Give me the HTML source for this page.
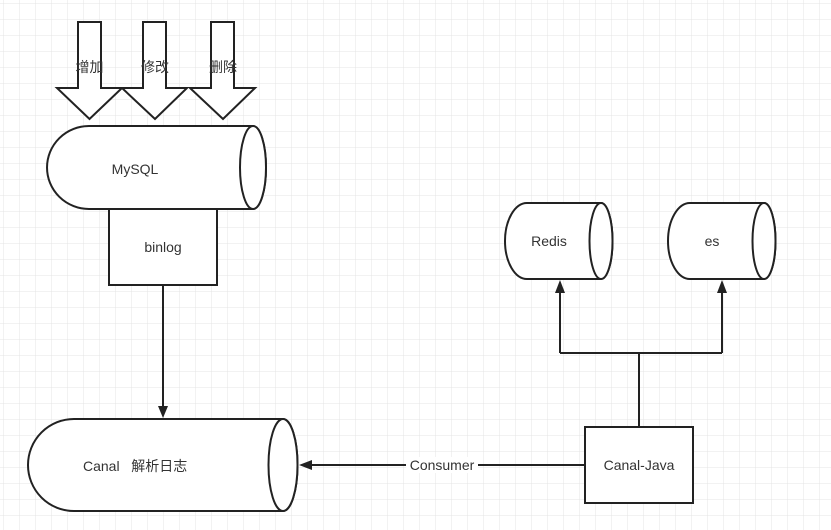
<!DOCTYPE html>
<html><head><meta charset="utf-8"><style>
html,body{margin:0;padding:0;background:#fff;}
svg{display:block}
text{font-family:"Liberation Sans","Noto Sans CJK SC",sans-serif;font-size:14px;fill:#333}
</style></head><body>
<svg width="831" height="530" viewBox="0 0 831 530" xmlns="http://www.w3.org/2000/svg">
<defs>
<pattern id="g" width="16" height="16" patternUnits="userSpaceOnUse" x="4" y="4">
<path d="M16 0V16H0" fill="none" stroke="#e4e4e4" stroke-width="1"/>
</pattern>
</defs>
<rect width="831" height="530" fill="url(#g)"/>
<g fill="#fff" stroke="#222" stroke-width="2">
<path d="M78 22H101V88H122L89.5 119L57 88H78Z"/>
<path d="M143 22H166V88H187L155 119L122 88H143Z"/>
<path d="M211 22H234V88H255L223 119L190 88H211Z"/>
<path d="M89 126H253A13 41.5 0 0 1 253 209H89A42 41.5 0 0 1 89 126Z"/>
<ellipse cx="253" cy="167.5" rx="13" ry="41.5"/>
<rect x="109" y="209" width="108" height="76"/>
<path d="M74 419H283A14.5 46 0 0 1 283 511H74A46 46 0 0 1 74 419Z"/>
<ellipse cx="283" cy="465" rx="14.5" ry="46"/>
<path d="M527 203H601A11.5 38 0 0 1 601 279H527A22 38 0 0 1 527 203Z"/>
<ellipse cx="601" cy="241" rx="11.5" ry="38"/>
<path d="M690 203H764A11.5 38 0 0 1 764 279H690A22 38 0 0 1 690 203Z"/>
<ellipse cx="764" cy="241" rx="11.5" ry="38"/>
<rect x="585" y="427" width="108" height="76"/>
</g>
<g stroke="#222" stroke-width="2" fill="none">
<path d="M163 285V410"/>
<path d="M584 465H309"/>
<path d="M639 427V353M560 353H722M560 353V292M722 353V292"/>
</g>
<g fill="#222">
<path d="M158 406L168 406L163 418Z"/>
<path d="M299 465L312 460L312 470Z"/>
<path d="M555 293L565 293L560 280Z"/>
<path d="M717 293L727 293L722 280Z"/>
</g>
<rect x="406" y="457" width="72" height="16" fill="#fff"/>
<text x="442" y="470" text-anchor="middle">Consumer</text>
<text x="89.5" y="72" text-anchor="middle">增加</text>
<text x="155" y="72" text-anchor="middle">修改</text>
<text x="223" y="72" text-anchor="middle">删除</text>
<text x="135" y="174" text-anchor="middle">MySQL</text>
<text x="163" y="252" text-anchor="middle">binlog</text>
<text x="83" y="471">Canal&#160;&#160;&#160;解析日志</text>
<text x="549" y="246" text-anchor="middle">Redis</text>
<text x="712" y="246" text-anchor="middle">es</text>
<text x="639" y="470" text-anchor="middle">Canal-Java</text>
</svg>
</body></html>
